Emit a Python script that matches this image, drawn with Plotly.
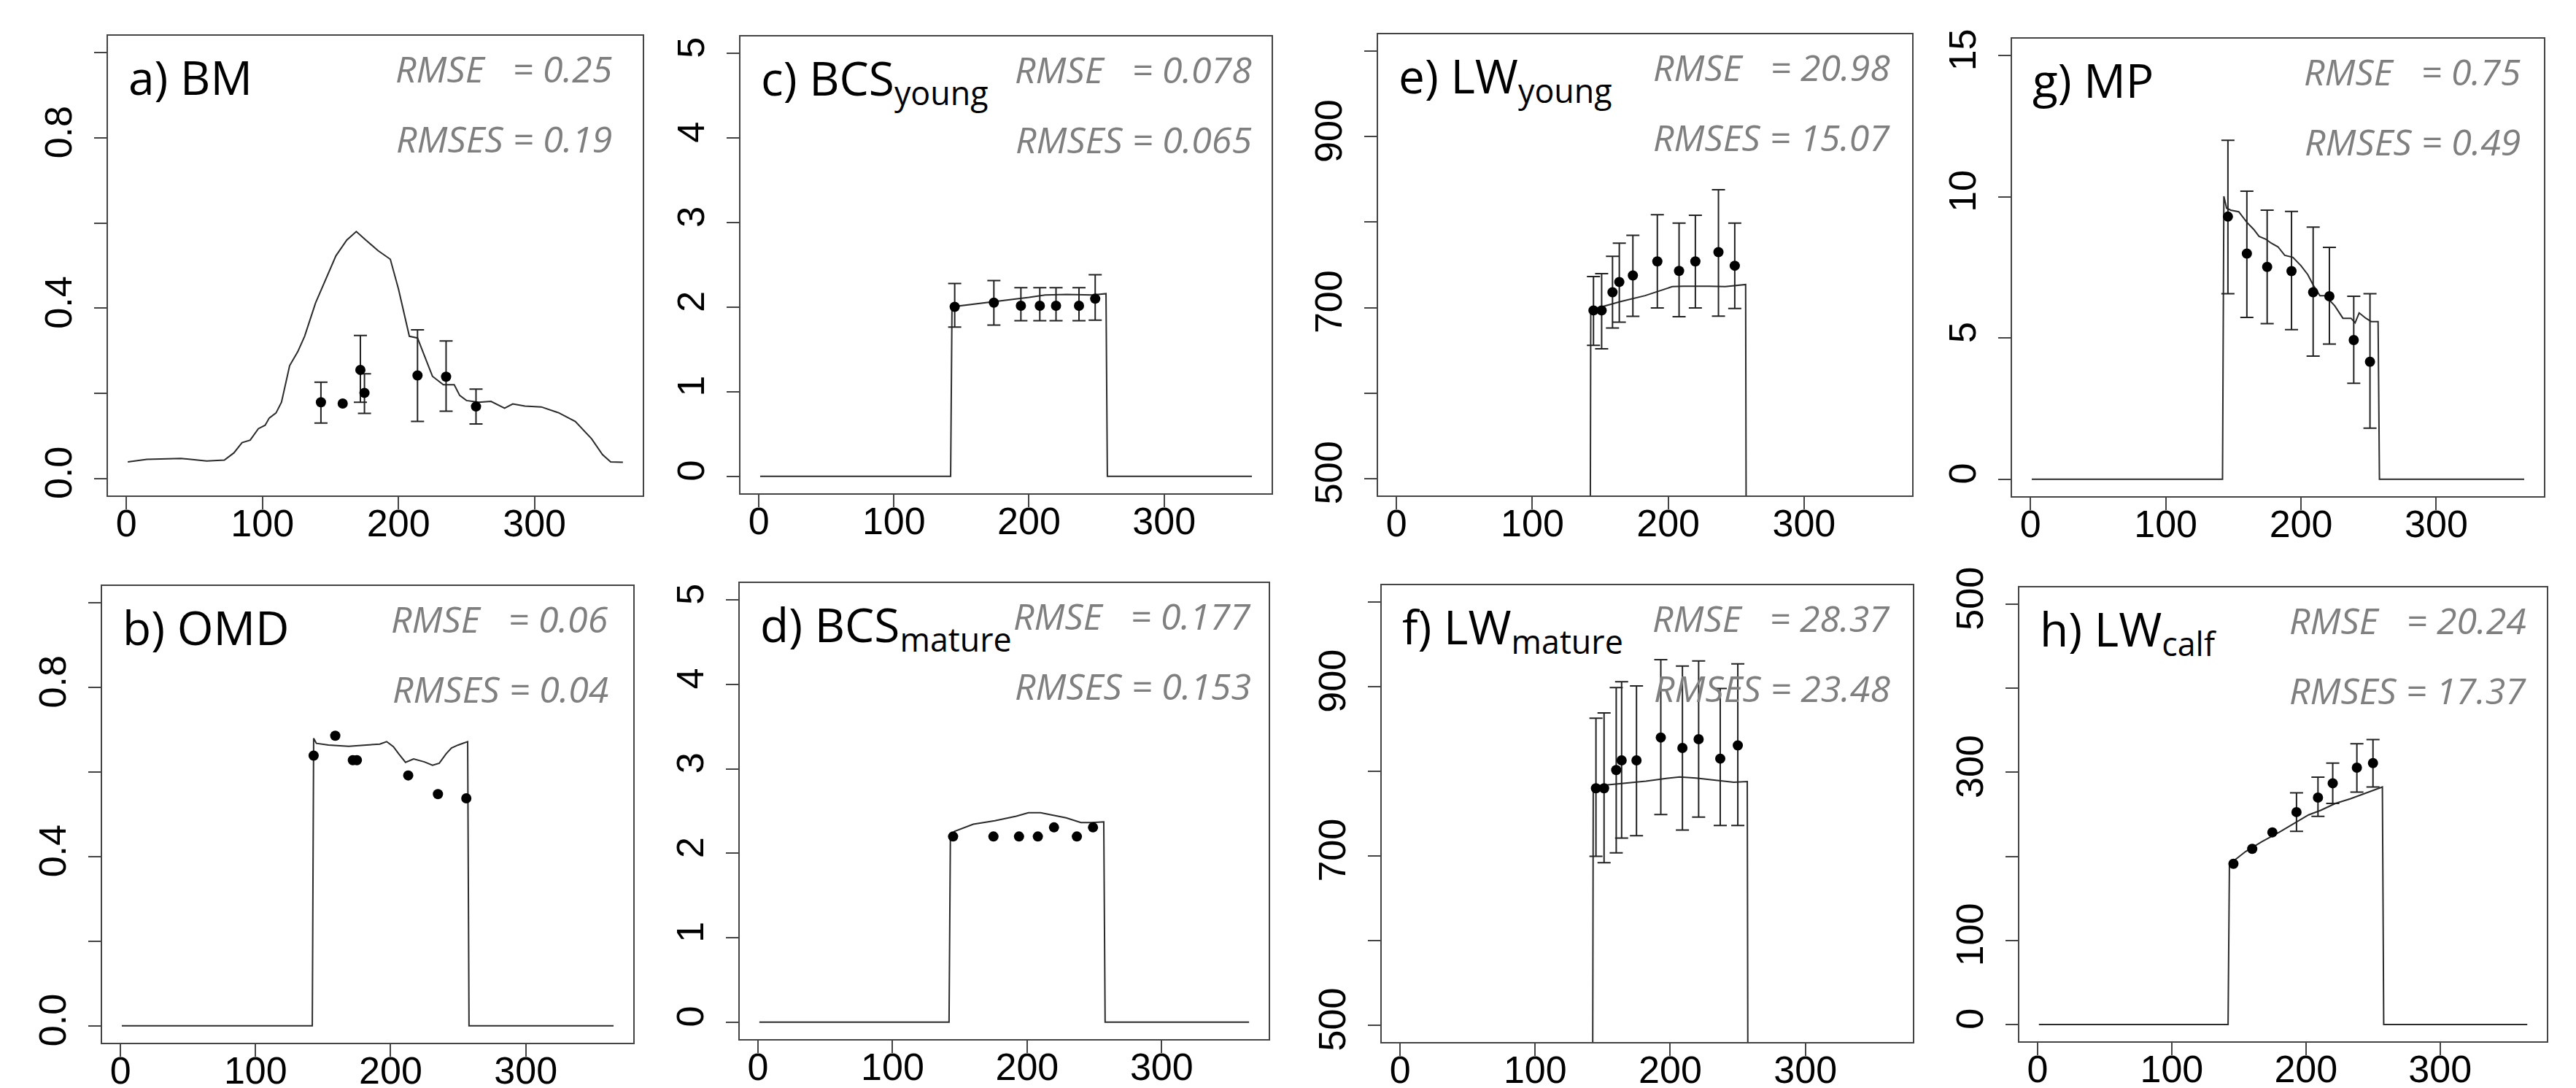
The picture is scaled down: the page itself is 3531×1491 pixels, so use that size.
import plotly.graph_objects as go

# ---- a) BM : model curve + observations
BM_DAY = [1, 15, 40, 59, 72, 79, 85, 91, 97, 102, 105, 110, 114, 120, 126, 131, 139, 148, 154, 162, 169, 176,
          185, 194, 200, 208, 214, 219, 225, 233, 241, 245, 250, 259, 268, 278, 284, 293, 305, 318, 330, 342,
          350, 356, 365]
BM_VAL = [0.039, 0.045, 0.047, 0.041, 0.043, 0.060, 0.084, 0.090, 0.117, 0.125, 0.142, 0.154, 0.179, 0.265,
          0.298, 0.334, 0.412, 0.478, 0.523, 0.560, 0.580, 0.560, 0.535, 0.515, 0.445, 0.334, 0.330, 0.289,
          0.240, 0.220, 0.220, 0.195, 0.183, 0.179, 0.181, 0.165, 0.175, 0.170, 0.168, 0.154, 0.134, 0.093,
          0.056, 0.039, 0.038]
BM_OBS_DAY = [143, 159, 172, 175, 214, 235, 257]
BM_OBS_VAL = [0.179, 0.176, 0.255, 0.201, 0.242, 0.239, 0.169]
BM_OBS_HI = [0.226, None, 0.336, 0.246, 0.349, 0.323, 0.210]
BM_OBS_LO = [0.130, None, 0.179, 0.153, 0.134, 0.158, 0.128]

# ---- b) OMD
OMD_DAY = [1, 142, 143, 145, 154, 169, 182, 192, 197, 202, 206, 211, 217, 225, 231, 236, 241, 245, 250, 257, 258, 365]
OMD_VAL = [0, 0, 0.680, 0.668, 0.664, 0.661, 0.664, 0.666, 0.672, 0.660, 0.643, 0.623, 0.631, 0.624, 0.616,
           0.621, 0.643, 0.657, 0.664, 0.672, 0, 0]
OMD_OBS_DAY = [143, 159, 172, 175, 213, 235, 256]
OMD_OBS_VAL = [0.639, 0.686, 0.628, 0.628, 0.592, 0.548, 0.538]

# ---- c) BCS young
BCSY_DAY = [1, 142, 143, 175, 200, 212, 228, 247, 257, 258, 365]
BCSY_VAL = [0, 0, 2.004, 2.066, 2.116, 2.145, 2.150, 2.145, 2.160, 0, 0]
BCSY_OBS_DAY = [145, 174, 194, 208, 220, 237, 249]
BCSY_OBS_VAL = [2.004, 2.054, 2.017, 2.017, 2.017, 2.017, 2.10]
BCSY_OBS_HI = [2.28, 2.314, 2.23, 2.23, 2.23, 2.23, 2.384]
BCSY_OBS_LO = [1.765, 1.789, 1.84, 1.84, 1.84, 1.84, 1.847]

# ---- d) BCS mature
BCSM_DAY = [1, 142, 143, 146, 160, 176, 192, 201, 210, 220, 229, 240, 248, 257, 258, 365]
BCSM_VAL = [0, 0, 2.199, 2.26, 2.344, 2.386, 2.44, 2.48, 2.48, 2.448, 2.42, 2.365, 2.365, 2.373, 0, 0]
BCSM_OBS_DAY = [145, 175, 194, 208, 220, 237, 249]
BCSM_OBS_VAL = [2.199, 2.199, 2.199, 2.199, 2.307, 2.199, 2.307]

# ---- e) LW young
LWY_DAY = [1, 142, 143, 151, 165, 183, 203, 211, 230, 242, 257, 258, 365]
LWY_VAL = [0, 0, 696.7, 700.8, 707, 714, 724.5, 725, 725, 724.5, 727, 0, 0]
LWY_OBS_DAY = [145, 151, 159, 164, 174, 192, 208, 220, 237, 249]
LWY_OBS_VAL = [696.7, 696.7, 718, 730, 737.6, 754, 743, 754, 765, 749]
LWY_OBS_HI = [736.4, 739.7, 760, 775.5, 784.7, 808.8, 799, 808, 838, 799]
LWY_OBS_LO = [655.8, 651.7, 676, 683, 689.8, 699.6, 689.4, 699.6, 690, 699]

# ---- f) LW mature
LWM_DAY = [1, 142, 143, 148, 154, 163, 182, 197, 207, 219, 228, 241, 247, 257, 258, 365]
LWM_VAL = [0, 0, 783, 783, 784, 785.5, 788.4, 791.7, 793.4, 792, 790.5, 788, 787, 788, 0, 0]
LWM_OBS_DAY = [145, 151, 160, 164, 175, 193, 209, 221, 237, 250]
LWM_OBS_VAL = [780, 780, 801.6, 813, 813, 840, 827.7, 838, 815, 830.6]
LWM_OBS_HI = [862.8, 869, 899, 906, 901, 932, 924.4, 930.6, 898, 927]
LWM_OBS_LO = [699.6, 692, 703.7, 721, 724, 749, 730.6, 745.9, 736, 736]

# ---- g) MP
MP_DAY = [1, 142, 143, 145, 148, 154, 160, 165, 169, 174, 178, 183, 188, 194, 200, 205, 209, 214, 218, 225,
          231, 237, 240, 243, 248, 252, 257, 258, 365]
MP_VAL = [0, 0, 10.02, 9.6, 9.53, 9.47, 9.1, 8.85, 8.6, 8.5, 8.36, 8.23, 7.93, 7.86, 7.56, 7.25, 6.88, 6.5,
          6.5, 6.14, 5.70, 5.70, 5.54, 5.89, 5.70, 5.58, 5.58, 0, 0]
MP_OBS_DAY = [146, 160, 175, 193, 209, 221, 239, 251]
MP_OBS_VAL = [9.30, 7.99, 7.52, 7.37, 6.62, 6.48, 4.93, 4.16]
MP_OBS_HI = [12.0, 10.2, 9.53, 9.48, 8.93, 8.21, 6.48, 6.57]
MP_OBS_LO = [6.57, 5.73, 5.51, 5.30, 4.36, 4.79, 3.40, 1.81]

# ---- h) LW calf
LWC_DAY = [1, 142, 143, 146, 155, 167, 180, 192, 202, 211, 222, 233, 245, 257, 258, 365]
LWC_VAL = [0, 0, 190.4, 194.5, 205.7, 217.4, 228.6, 240.2, 249.4, 254.8, 263, 268.5, 275.6, 282.6, 0, 0]
LWC_OBS_DAY = [146, 160, 175, 193, 209, 220, 238, 250]
LWC_OBS_VAL = [191.2, 209, 228.6, 252.7, 270, 287, 305.5, 311]
LWC_OBS_HI = [None, None, None, 275.6, 294.3, 310.9, 334, 339]
LWC_OBS_LO = [None, None, None, 229.8, 247.7, 263, 276.4, 282.6]

# ---- panel labels and fit statistics
LABELS = ["a) BM", "c) BCS<sub>young</sub>", "e) LW<sub>young</sub>", "g) MP",
          "b) OMD", "d) BCS<sub>mature</sub>", "f) LW<sub>mature</sub>", "h) LW<sub>calf</sub>"]
RMSE = ["0.25", "0.078", "20.98", "0.75", "0.06", "0.177", "28.37", "20.24"]
RMSES = ["0.19", "0.065", "15.07", "0.49", "0.04", "0.153", "23.48", "17.37"]

# ticks: labelled ones and unlabelled (minor) ones
X_TICKS = [0, 100, 200, 300]
Y_01_TICKS, Y_01_MINOR = [0, 0.4, 0.8], [0.2, 0.6, 1.0]
Y_01_TEXT = ["0.0", "0.4", "0.8"]
Y_05_TICKS, Y_05_MINOR = [0, 1, 2, 3, 4, 5], []
Y_05_TEXT = ["0", "1", "2", "3", "4", "5"]
Y_LW_TICKS, Y_LW_MINOR = [500, 700, 900], [600, 800, 1000]
Y_LW_TEXT = ["500", "700", "900"]
Y_MP_TICKS, Y_MP_MINOR = [0, 5, 10, 15], []
Y_MP_TEXT = ["0", "5", "10", "15"]
Y_CALF_TICKS, Y_CALF_MINOR = [0, 100, 300, 500], [200, 400]
Y_CALF_TEXT = ["0", "100", "300", "500"]

W, H = 3531, 1491

panels = [
    # top row: a, c, e, g
    dict(day=BM_DAY, val=BM_VAL, od=BM_OBS_DAY, ov=BM_OBS_VAL, hi=BM_OBS_HI, lo=BM_OBS_LO,
         yr=[-0.04, 1.04], tv=Y_01_TICKS, tt=Y_01_TEXT, mv=Y_01_MINOR, box=(140, 873, 41, 671), rx=0.945),
    dict(day=BCSY_DAY, val=BCSY_VAL, od=BCSY_OBS_DAY, ov=BCSY_OBS_VAL, hi=BCSY_OBS_HI, lo=BCSY_OBS_LO,
         yr=[-0.2, 5.2], tv=Y_05_TICKS, tt=Y_05_TEXT, mv=Y_05_MINOR, box=(1007, 1735, 42, 668), rx=0.965),
    dict(day=LWY_DAY, val=LWY_VAL, od=LWY_OBS_DAY, ov=LWY_OBS_VAL, hi=LWY_OBS_HI, lo=LWY_OBS_LO,
         yr=[480, 1020], tv=Y_LW_TICKS, tt=Y_LW_TEXT, mv=Y_LW_MINOR, box=(1881, 2613, 39, 671), rx=0.962),
    dict(day=MP_DAY, val=MP_VAL, od=MP_OBS_DAY, ov=MP_OBS_VAL, hi=MP_OBS_HI, lo=MP_OBS_LO,
         yr=[-0.6, 15.6], tv=Y_MP_TICKS, tt=Y_MP_TEXT, mv=Y_MP_MINOR, box=(2750, 3479, 45, 672), rx=0.959),
    # bottom row: b, d, f, h
    dict(day=OMD_DAY, val=OMD_VAL, od=OMD_OBS_DAY, ov=OMD_OBS_VAL, hi=None, lo=None,
         yr=[-0.04, 1.04], tv=Y_01_TICKS, tt=Y_01_TEXT, mv=Y_01_MINOR, box=(132, 860, 795, 1421), rx=0.956),
    dict(day=BCSM_DAY, val=BCSM_VAL, od=BCSM_OBS_DAY, ov=BCSM_OBS_VAL, hi=None, lo=None,
         yr=[-0.2, 5.2], tv=Y_05_TICKS, tt=Y_05_TEXT, mv=Y_05_MINOR, box=(1006, 1731, 791, 1416), rx=0.970),
    dict(day=LWM_DAY, val=LWM_VAL, od=LWM_OBS_DAY, ov=LWM_OBS_VAL, hi=LWM_OBS_HI, lo=LWM_OBS_LO,
         yr=[480, 1020], tv=Y_LW_TICKS, tt=Y_LW_TEXT, mv=Y_LW_MINOR, box=(1886, 2614, 794, 1420), rx=0.960),
    dict(day=LWC_DAY, val=LWC_VAL, od=LWC_OBS_DAY, ov=LWC_OBS_VAL, hi=LWC_OBS_HI, lo=LWC_OBS_LO,
         yr=[-20, 520], tv=Y_CALF_TICKS, tt=Y_CALF_TEXT, mv=Y_CALF_MINOR, box=(2760, 3483, 797, 1419), rx=0.964),
]

fig = go.Figure()
layout = {}
annotations = []
tickfont = dict(family="Liberation Sans, Arial, sans-serif", size=52, color="black")
title_font = dict(family="Open Sans, Lato, sans-serif", size=64, color="black")
stat_font = dict(family="Open Sans, Lato, sans-serif", size=50, color="#7f7f7f")

for i, p in enumerate(panels):
    n = "" if i == 0 else str(i + 1)
    xref, yref = "x" + n, "y" + n
    x0, x1, y0, y1 = p["box"]

    # model output
    fig.add_trace(go.Scatter(x=p["day"], y=p["val"], mode="lines", xaxis=xref, yaxis=yref,
                             line=dict(color="#2b2b2b", width=2), showlegend=False))

    # error bars (only points that have them)
    if p["hi"] is not None:
        ed = [d for d, h in zip(p["od"], p["hi"]) if h is not None]
        ev = [v for v, h in zip(p["ov"], p["hi"]) if h is not None]
        up = [h - v for v, h in zip(p["ov"], p["hi"]) if h is not None]
        dn = [v - l for v, l in zip(p["ov"], p["lo"]) if l is not None]
        fig.add_trace(go.Scatter(x=ed, y=ev, mode="markers", xaxis=xref, yaxis=yref,
                                 marker=dict(size=1, color="rgba(0,0,0,0)"), showlegend=False,
                                 error_y=dict(type="data", symmetric=False, array=up, arrayminus=dn,
                                              color="#222", thickness=2, width=9)))

    # observations
    fig.add_trace(go.Scatter(x=p["od"], y=p["ov"], mode="markers", xaxis=xref, yaxis=yref,
                             marker=dict(size=14, color="black"), showlegend=False))

    axis_common = dict(showline=True, mirror=True, linecolor="#444", linewidth=2,
                       ticks="outside", ticklen=17, tickwidth=2, tickcolor="#444",
                       showgrid=False, zeroline=False, tickfont=tickfont, fixedrange=True,
                       automargin=False)
    layout["xaxis" + n] = dict(axis_common, domain=[x0 / W, x1 / W], range=[-13.56, 379.56],
                               tickvals=X_TICKS, ticktext=[str(t) for t in X_TICKS],
                               anchor=yref, ticklabelstandoff=-25)
    layout["yaxis" + n] = dict(axis_common, domain=[1 - y1 / H, 1 - y0 / H], range=p["yr"],
                               tickvals=p["tv"], ticktext=p["tt"], tickangle=-90,
                               anchor=xref, ticklabelstandoff=10,
                               minor=dict(tickvals=p["mv"], ticks="outside", ticklen=17, tickwidth=2,
                                          tickcolor="#444", showgrid=False))

    # panel label
    annotations.append(dict(text=LABELS[i], xref=xref + " domain", yref=yref + " domain",
                            x=0.036, y=1 - 11 / (y1 - y0), xanchor="left", yanchor="top",
                            showarrow=False, font=title_font))
    # fit statistics
    annotations.append(dict(text="<i>RMSE\u00a0\u00a0\u00a0= " + RMSE[i] + "</i>",
                            xref=xref + " domain", yref=yref + " domain",
                            x=p["rx"], y=1 - 45 / (y1 - y0), xanchor="right", yanchor="middle",
                            showarrow=False, font=stat_font))
    annotations.append(dict(text="<i>RMSES = " + RMSES[i] + "</i>",
                            xref=xref + " domain", yref=yref + " domain",
                            x=p["rx"], y=1 - 141 / (y1 - y0), xanchor="right", yanchor="middle",
                            showarrow=False, font=stat_font))

fig.update_layout(**layout)
fig.update_layout(
    width=W, height=H, autosize=False,
    margin=dict(l=0, r=0, t=0, b=0, pad=0),
    paper_bgcolor="white", plot_bgcolor="white",
    annotations=annotations,
    showlegend=False,
)

fig.write_html("out.html")
